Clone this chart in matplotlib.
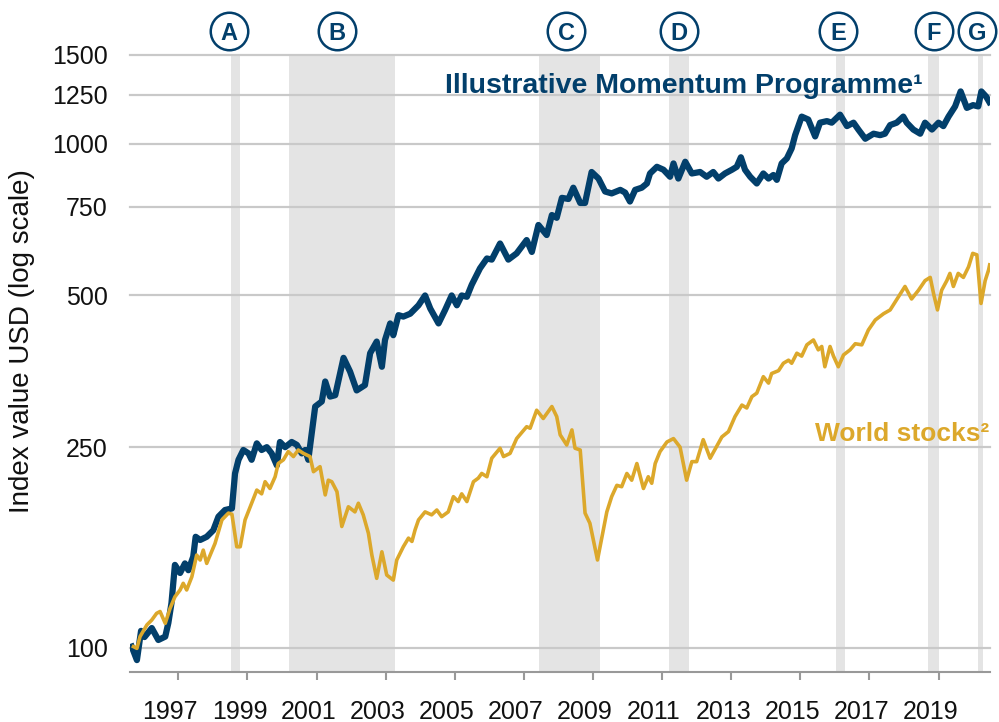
import matplotlib
matplotlib.use("Agg")
import matplotlib.pyplot as plt
import matplotlib.transforms as mtransforms
from matplotlib.ticker import NullLocator

plt.rcParams['font.family'] = ['Liberation Sans', 'DejaVu Sans']

# Illustrative Momentum Programme (decimal year, index value)
mom_years = [1995.65, 1995.80, 1995.92, 1996.02, 1996.23, 1996.42, 1996.62, 1996.71, 1996.80, 1996.90,
             1997.05, 1997.19, 1997.29, 1997.43, 1997.50, 1997.63, 1997.82, 1998.01, 1998.16, 1998.35,
             1998.55, 1998.64, 1998.74, 1998.88, 1999.03, 1999.12, 1999.27, 1999.41, 1999.56, 1999.70,
             1999.85, 1999.94, 2000.09, 2000.28, 2000.43, 2000.57, 2000.67, 2000.76, 2000.86, 2000.96,
             2001.15, 2001.25, 2001.39, 2001.54, 2001.78, 2001.97, 2002.16, 2002.40, 2002.55, 2002.74,
             2002.89, 2002.98, 2003.13, 2003.22, 2003.37, 2003.51, 2003.71, 2003.95, 2004.14, 2004.29,
             2004.53, 2004.72, 2004.91, 2005.06, 2005.20, 2005.35, 2005.49, 2005.73, 2005.93, 2006.07,
             2006.31, 2006.55, 2006.79, 2007.08, 2007.23, 2007.42, 2007.66, 2007.81, 2007.95, 2008.10,
             2008.29, 2008.43, 2008.63, 2008.77, 2008.96, 2009.16, 2009.35, 2009.54, 2009.79, 2009.93,
             2010.07, 2010.22, 2010.41, 2010.56, 2010.65, 2010.85, 2011.04, 2011.23, 2011.33, 2011.47,
             2011.67, 2011.86, 2012.10, 2012.29, 2012.48, 2012.63, 2012.82, 2013.02, 2013.16, 2013.28,
             2013.40, 2013.55, 2013.74, 2013.93, 2014.08, 2014.22, 2014.32, 2014.46, 2014.61, 2014.75,
             2014.85, 2015.04, 2015.23, 2015.43, 2015.57, 2015.77, 2015.91, 2016.15, 2016.35, 2016.54,
             2016.68, 2016.88, 2017.12, 2017.31, 2017.45, 2017.60, 2017.79, 2017.98, 2018.08, 2018.27,
             2018.47, 2018.61, 2018.81, 2019.00, 2019.14, 2019.29, 2019.48, 2019.64, 2019.82, 2020.00,
             2020.15, 2020.24, 2020.38, 2020.47]
mom_vals = [100.5, 94.5, 108, 105, 109.4, 103.6, 105.2, 112, 122.6, 146,
            140.7, 147, 142.5, 151.6, 166, 163.6, 166, 171, 182, 187.6,
            189, 221.7, 236, 246.8, 243, 236, 254.4, 246.8, 250, 243,
            230, 256, 250, 256, 252.6, 243, 246.8, 236, 266.6, 301,
            308, 337.5, 315, 317, 376, 353, 324, 332, 384, 405,
            361, 408, 440, 417, 457, 454, 460, 478, 500, 471,
            440, 468, 500, 478, 500, 497, 525, 566, 592, 589,
            634, 589, 606, 644, 610, 690, 659, 722, 713, 781,
            777, 818, 763, 763, 879, 853, 804, 797, 810, 800,
            768, 810, 818, 834, 873, 900, 888, 860, 914, 853,
            921, 873, 879, 860, 879, 853, 873, 888, 900, 940,
            888, 860, 834, 873, 853, 867, 848, 914, 935, 979,
            1040, 1132, 1117, 1034, 1101, 1109, 1101, 1142, 1084, 1101,
            1067, 1023, 1047, 1040, 1047, 1089, 1101, 1132, 1101, 1067,
            1047, 1101, 1067, 1101, 1084, 1132, 1186, 1270, 1178, 1193,
            1186, 1270, 1240, 1210]

# World stocks
world_years = [1995.70, 1995.80, 1995.89, 1996.09, 1996.23, 1996.37, 1996.47, 1996.62, 1996.76, 1996.90,
               1997.05, 1997.14, 1997.24, 1997.39, 1997.53, 1997.63, 1997.72, 1997.82, 1998.06, 1998.26,
               1998.45, 1998.55, 1998.69, 1998.79, 1998.93, 1999.12, 1999.27, 1999.41, 1999.51, 1999.65,
               1999.80, 1999.89, 2000.04, 2000.18, 2000.33, 2000.47, 2000.62, 2000.81, 2000.91, 2001.10,
               2001.25, 2001.34, 2001.44, 2001.59, 2001.73, 2001.92, 2002.11, 2002.21, 2002.35, 2002.50,
               2002.60, 2002.74, 2002.89, 2003.03, 2003.22, 2003.32, 2003.51, 2003.66, 2003.76, 2003.85,
               2003.95, 2004.14, 2004.33, 2004.48, 2004.62, 2004.81, 2004.96, 2005.10, 2005.20, 2005.35,
               2005.54, 2005.68, 2005.78, 2005.93, 2006.07, 2006.31, 2006.41, 2006.60, 2006.79, 2007.08,
               2007.18, 2007.37, 2007.56, 2007.81, 2007.95, 2008.05, 2008.24, 2008.39, 2008.48, 2008.63,
               2008.77, 2008.91, 2009.13, 2009.30, 2009.40, 2009.54, 2009.69, 2009.83, 2009.98, 2010.12,
               2010.27, 2010.46, 2010.60, 2010.70, 2010.80, 2010.94, 2011.14, 2011.33, 2011.52, 2011.71,
               2011.86, 2012.00, 2012.19, 2012.39, 2012.55, 2012.73, 2012.92, 2013.11, 2013.31, 2013.45,
               2013.60, 2013.74, 2013.93, 2014.08, 2014.17, 2014.37, 2014.51, 2014.66, 2014.75, 2014.90,
               2015.04, 2015.19, 2015.38, 2015.52, 2015.62, 2015.71, 2015.86, 2015.96, 2016.10, 2016.25,
               2016.44, 2016.59, 2016.78, 2016.97, 2017.17, 2017.41, 2017.60, 2017.84, 2018.03, 2018.22,
               2018.42, 2018.61, 2018.76, 2018.86, 2018.97, 2019.09, 2019.24, 2019.33, 2019.43, 2019.57,
               2019.72, 2019.87, 2019.99, 2020.11, 2020.23, 2020.35, 2020.45, 2020.48]
world_vals = [100.5, 99.7, 105.2, 111, 113.5, 117, 118, 111.8, 119.7, 126.2,
              130.2, 134.2, 130.2, 138.3, 152.7, 149.3, 156.2, 147, 161, 179.3,
              185, 184, 158.6, 158.6, 179.3, 193.5, 205.5, 202, 213.5, 207,
              218.4, 232, 236, 245, 239.5, 246.8, 243, 239.5, 223.5, 228.7,
              201, 215, 213.5, 204, 174, 190.4, 186, 193.5, 183.5, 168.7,
              152.7, 137.3, 155, 139.4, 136.2, 149.3, 158.6, 165, 162.5, 171.3,
              179.3, 186, 183.5, 187.6, 182, 186, 199.4, 195, 202, 195,
              213.5, 217, 221.7, 218.4, 237.7, 248.8, 239.5, 243, 260, 274.5,
              272.6, 296, 285, 301, 287.5, 264.5, 252.5, 270.5, 248.8, 246.8,
              185, 176.6, 149.3, 171.3, 186, 199.4, 210, 208.7, 221.7, 215,
              232, 207, 218.4, 212, 232, 245, 256, 260, 250, 215,
              234, 234, 258.7, 237.7, 248.8, 262, 268.4, 287.5, 303, 299,
              315, 320, 345, 335, 350, 354.6, 366.8, 372, 366.8, 384,
              379, 399, 408, 390, 396, 361, 396, 379, 361, 381,
              390, 401, 399, 427, 447, 460, 468, 497, 521, 492,
              512, 535, 543, 503, 468, 512, 535, 553, 521, 553,
              543, 570, 606, 602, 482, 535, 562, 575]

# shaded periods and their labels
period_names = ['A', 'B', 'C', 'D', 'E', 'F', 'G']
period_start = [1998.53, 2000.20, 2007.43, 2011.20, 2016.04, 2018.71, 2020.13]
period_end = [1998.77, 2003.27, 2009.19, 2011.77, 2016.29, 2019.02, 2020.28]
label_x = [1998.47, 2001.59, 2008.22, 2011.49, 2016.09, 2018.87, 2020.12]

y_ticks = [100, 250, 500, 750, 1000, 1250, 1500]
x_ticks = list(range(1997, 2020, 2))

blue = '#023f6b'
gold = '#dca82b'
shade = '#e4e4e4'
grid = '#c9c9c9'

fig = plt.figure(figsize=(9.99, 7.22), dpi=100)
ax = fig.add_axes([130/999, 1-672/722, 860/999, 617/722])
ax.set_yscale('log')

for s, e in zip(period_start, period_end):
    ax.axvspan(s, e, color=shade, lw=0, zorder=0)
for v in y_ticks:
    ax.axhline(v, color=grid, lw=1.6, zorder=1, clip_on=False)

ax.plot(mom_years, mom_vals, color=blue, lw=4.5, zorder=3)
ax.plot(world_years, world_vals, color=gold, lw=2.6, zorder=4)

ax.set_xlim(1995.60, 2020.49)
ax.set_ylim(89.5, 1500)
ax.set_yticks(y_ticks)
ax.set_yticklabels([str(v) for v in y_ticks])
ax.yaxis.set_minor_locator(NullLocator())
ax.set_xticks(x_ticks)
ax.set_xticklabels([str(v) for v in x_ticks])
ax.tick_params(axis='y', length=0, pad=16, labelsize=18, labelcolor='#111111')
ax.tick_params(axis='x', length=6, width=1.5, color='#999999', pad=14,
               labelsize=18, labelcolor='#111111')
# year labels sit a little left of their tick marks in the original
shift = mtransforms.ScaledTranslation(-8/100, 0, fig.dpi_scale_trans)
for lab in ax.get_xticklabels():
    lab.set_transform(lab.get_transform() + shift)
for side in ['top', 'left', 'right']:
    ax.spines[side].set_visible(False)
ax.spines['bottom'].set_color('#999999')
ax.spines['bottom'].set_linewidth(1.5)

trans = mtransforms.blended_transform_factory(ax.transData, ax.transAxes)
for name, x in zip(period_names, label_x):
    ax.plot([x], [1.039], marker='o', ms=27, mfc='white', mec=blue, mew=1.8,
            transform=trans, clip_on=False, zorder=5)
    ax.text(x, 1.039, name, transform=trans, ha='center', va='center_baseline',
            fontsize=17, fontweight='bold', color=blue, zorder=6)

ax.text(2004.72, 1262, 'Illustrative Momentum Programme\u00b9', fontsize=20.5,
        fontweight='bold', color=blue, va='baseline', zorder=6)
ax.text(2015.43, 257, 'World stocks\u00b2', fontsize=19, fontweight='bold',
        color=gold, va='baseline', zorder=6)

fig.text(22/999, 1-341.5/722, 'Index value USD (log scale)', rotation=90,
         ha='center', va='center', fontsize=20, color='#111111')

fig.savefig('out.png', dpi=100)
